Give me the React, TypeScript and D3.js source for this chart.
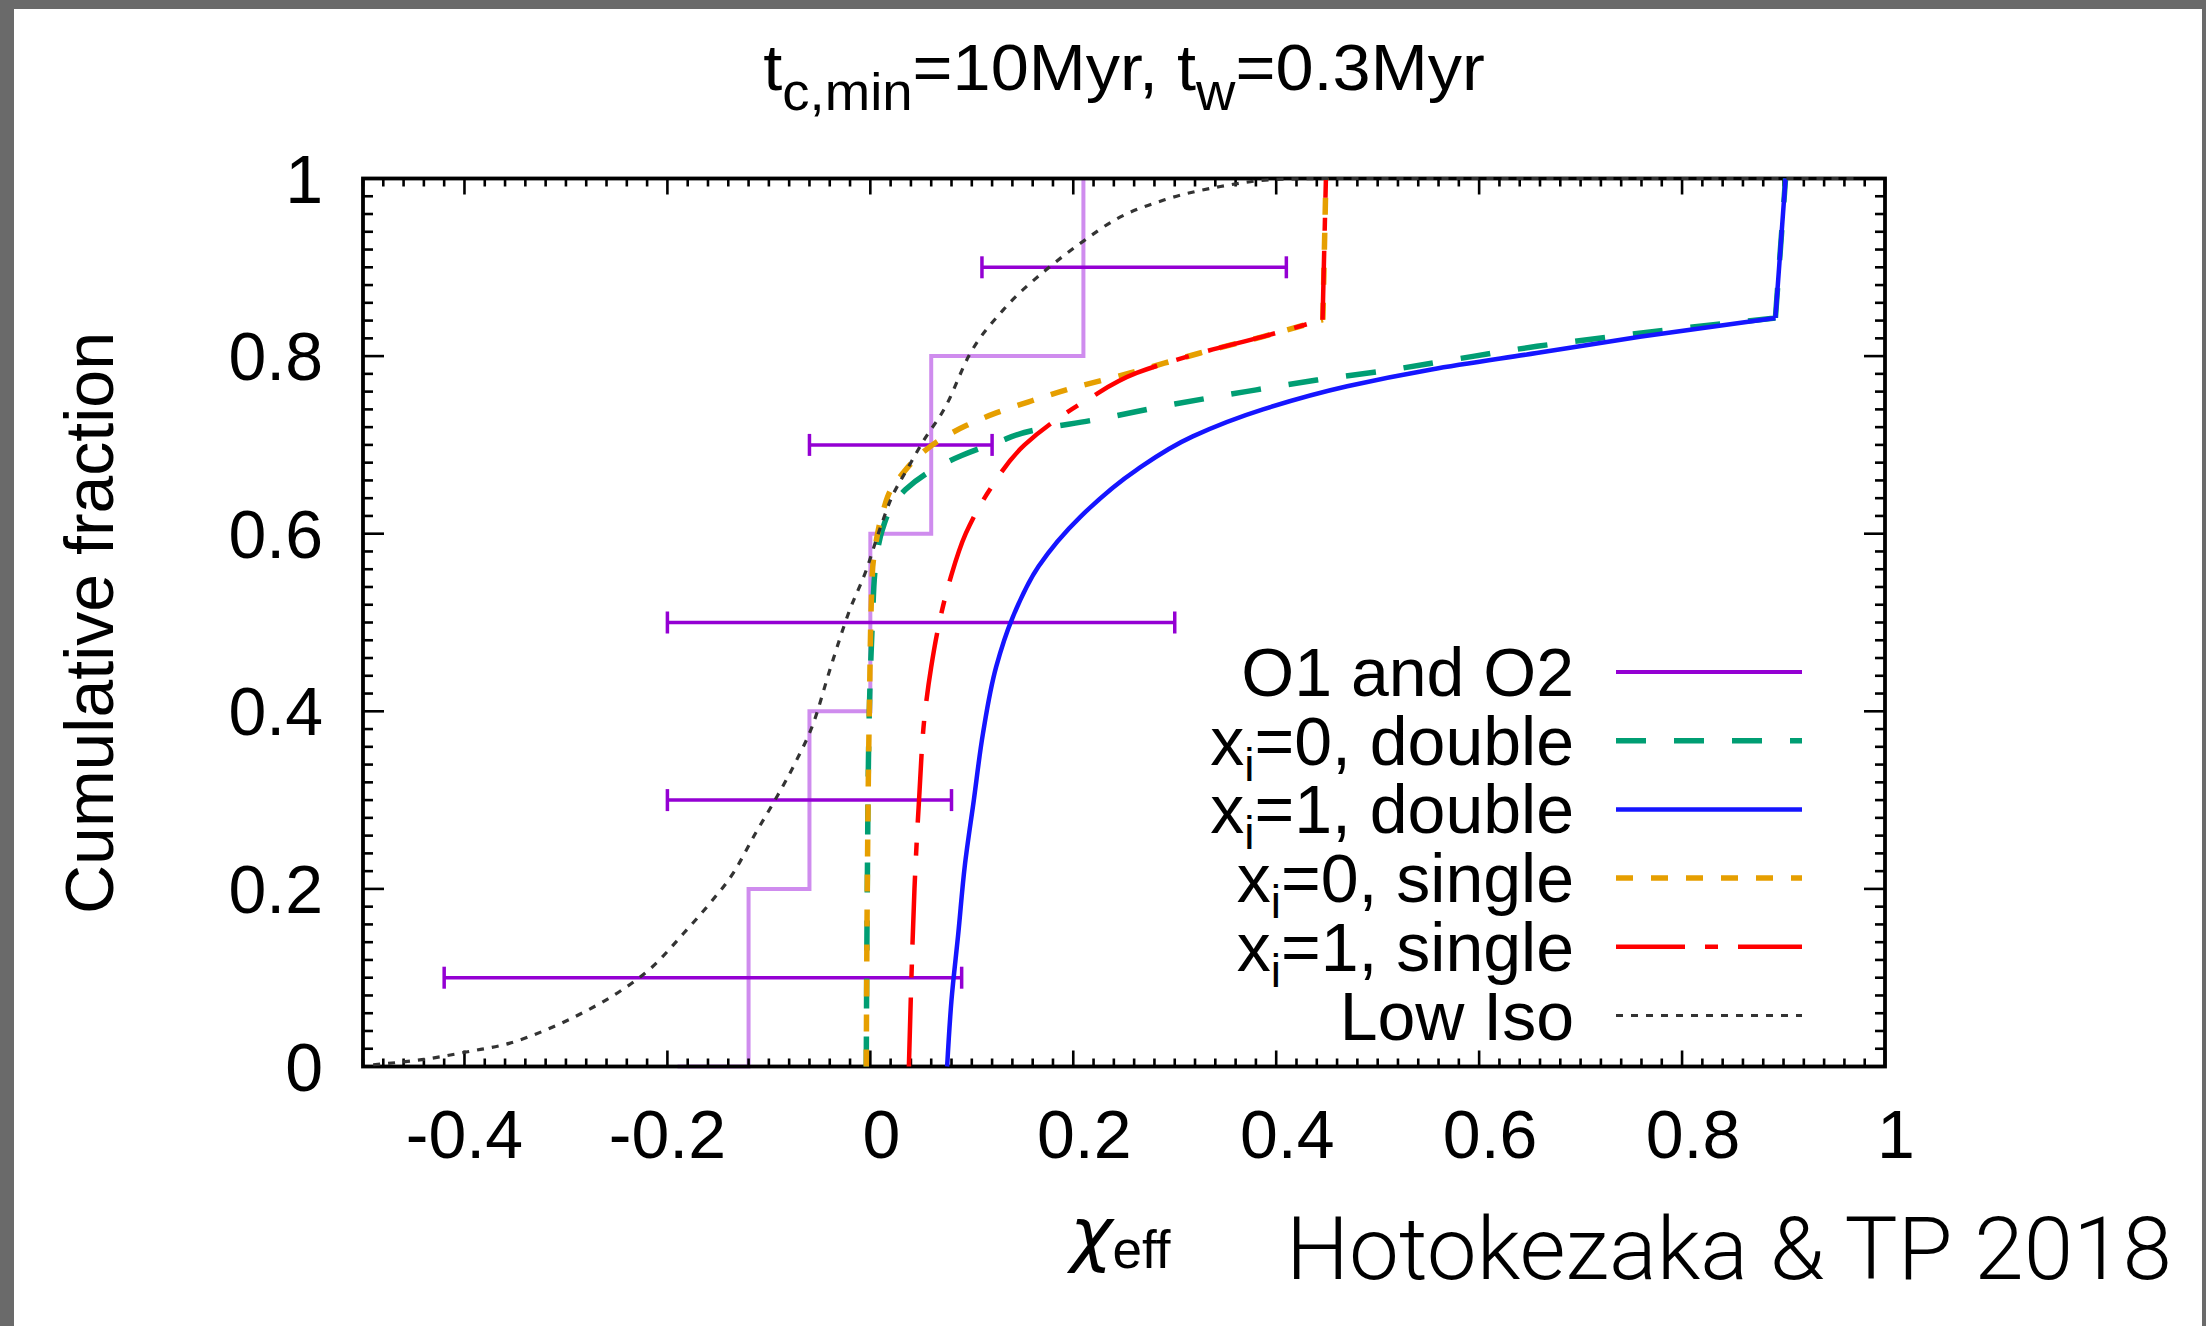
import React from "react";
import * as d3 from "d3";

// ---------- data ----------
const xTickValues = [-0.4, -0.2, 0, 0.2, 0.4, 0.6, 0.8, 1];
const xTickLabels = ["-0.4", "-0.2", "0", "0.2", "0.4", "0.6", "0.8", "1"];
const yTickValues = [0, 0.2, 0.4, 0.6, 0.8, 1];
const yTickLabels = ["0", "0.2", "0.4", "0.6", "0.8", "1"];

// O1 and O2 observed cumulative (step)
const obsStepX = [-0.19, -0.12, -0.06, 0.0, 0.06, 0.21];
const obsStepY = [0.0, 0.2, 0.4, 0.6, 0.8, 1.0];

// O1 and O2 error bars
const errY = [0.1, 0.3, 0.5, 0.7, 0.9];
const errXMin = [-0.42, -0.2, -0.2, -0.06, 0.11];
const errXMax = [0.09, 0.08, 0.3, 0.12, 0.41];

// x_i=0, double
const dbl0X = [-0.004, -0.003, -0.001, 0.002, 0.005, 0.012, 0.02, 0.035, 0.06, 0.09, 0.125, 0.159, 0.22, 0.30, 0.37, 0.44, 0.51, 0.574, 0.657, 0.76, 0.892, 0.902];
const dbl0Y = [0.0, 0.2, 0.4, 0.5, 0.563, 0.605, 0.628, 0.65, 0.671, 0.688, 0.703, 0.716, 0.728, 0.746, 0.76, 0.773, 0.784, 0.796, 0.811, 0.826, 0.843, 1.0];

// x_i=1, double
const dbl1X = [0.0757, 0.08, 0.0867, 0.093, 0.102, 0.111, 0.124, 0.14, 0.1657, 0.207, 0.2625, 0.3178, 0.387, 0.47, 0.553, 0.6566, 0.76, 0.892, 0.902];
const dbl1Y = [0.0, 0.075, 0.15, 0.225, 0.3, 0.375, 0.45, 0.505, 0.563, 0.619, 0.672, 0.7096, 0.74, 0.766, 0.785, 0.8035, 0.822, 0.843, 1.0];

// x_i=0, single
const sgl0X = [-0.004, -0.003, -0.001, 0.002, 0.0054, 0.0129, 0.0205, 0.032, 0.047, 0.069, 0.095, 0.124, 0.16, 0.193, 0.256, 0.325, 0.387, 0.446, 0.449];
const sgl0Y = [0.0, 0.2, 0.4, 0.556, 0.589, 0.627, 0.65, 0.668, 0.687, 0.706, 0.722, 0.736, 0.75, 0.762, 0.781, 0.8035, 0.822, 0.841, 1.0];

// x_i=1, single
const sgl1X = [0.038, 0.0405, 0.0435, 0.048, 0.054, 0.06, 0.068, 0.079, 0.094, 0.118, 0.152, 0.214, 0.2625, 0.3247, 0.387, 0.4457, 0.449];
const sgl1Y = [0.0, 0.1, 0.2, 0.3, 0.4, 0.45, 0.5, 0.55, 0.6, 0.65, 0.7, 0.751, 0.781, 0.8035, 0.822, 0.841, 1.0];

// Low Iso
const lowIsoX = [-0.49, -0.44, -0.395, -0.356, -0.32, -0.281, -0.245, -0.215, -0.184, -0.158, -0.135, -0.113, -0.094, -0.074, -0.056, -0.039, -0.021, -0.004, 0.009, 0.02, 0.036, 0.051, 0.075, 0.097, 0.131, 0.173, 0.207, 0.242, 0.29, 0.345, 0.4, 0.45, 0.97];
const lowIsoY = [0.002, 0.008, 0.017, 0.026, 0.041, 0.062, 0.086, 0.112, 0.15, 0.184, 0.218, 0.263, 0.3, 0.342, 0.387, 0.45, 0.512, 0.559, 0.604, 0.638, 0.672, 0.702, 0.745, 0.8, 0.852, 0.897, 0.927, 0.954, 0.976, 0.991, 0.999, 1.0, 1.0];

const legendLabels = ["O1 and O2", "x_i=0, double", "x_i=1, double", "x_i=0, single", "x_i=1, single", "Low Iso"];

const titleText = "t_{c,min}=10Myr, t_{w}=0.3Myr";
const yAxisTitle = "Cumulative fraction";
const creditText = "Hotokezaka & TP 2018";

// ---------- layout ----------
const W = 2206, H = 1326;
const PL = 363, PR = 1885, PT = 178.5, PB = 1066.5;
const FONT = "'Liberation Sans', Arial, Helvetica, sans-serif";

const x = d3.scaleLinear().domain([-0.5, 1]).range([PL, PR]);
const y = d3.scaleLinear().domain([0, 1]).range([PB, PT]);

const zip = (xs: number[], ys: number[]) => xs.map((v, i) => [v, ys[i]] as [number, number]);

const lineY = d3.line<[number, number]>().x(d => x(d[0])).y(d => y(d[1])).curve(d3.curveMonotoneY);
const lineX = d3.line<[number, number]>().x(d => x(d[0])).y(d => y(d[1])).curve(d3.curveMonotoneX);
const lineLin = d3.line<[number, number]>().x(d => x(d[0])).y(d => y(d[1]));
const stepLine = d3.line<[number, number]>().x(d => x(d[0])).y(d => y(d[1])).curve(d3.curveStepAfter);

const styles = [
  { color: "#9400d3", dash: "", width: 4 },
  { color: "#009e73", dash: "30,28", width: 5.5 },
  { color: "#1515ff", dash: "", width: 4.5 },
  { color: "#e69f00", dash: "17,18", width: 5.5 },
  { color: "#ff0000", dash: "69,20,13,20", width: 4.5 },
  { color: "#333333", dash: "7,8", width: 3.2 },
];

function parseTitle(s: string) {
  const parts: { t: string; sub: boolean }[] = [];
  const re = /_\{([^}]*)\}/g;
  let last = 0;
  let m;
  while ((m = re.exec(s)) !== null) {
    if (m.index > last) parts.push({ t: s.slice(last, m.index), sub: false });
    parts.push({ t: m[1], sub: true });
    last = m.index + m[0].length;
  }
  if (last < s.length) parts.push({ t: s.slice(last), sub: false });
  return parts;
}

// body drawn smooth (monotone in y), final jump to 1 drawn straight
function curvePath(xs: number[], ys: number[]) {
  const pts = zip(xs, ys);
  const n = pts.length;
  const body = lineY(pts.slice(0, n - 1)) || "";
  const tail = lineLin(pts.slice(n - 2)) || "";
  return body + " " + tail;
}

export default function App() {
  const isMajor = (v: number) => Math.abs(Math.round(v * 5) - v * 5) < 1e-6;
  const xMinor = d3.range(-0.5, 1.0001, 0.02).map(v => +v.toFixed(3)).filter(v => !isMajor(v));
  const yMinor = d3.range(0, 1.0001, 0.02).map(v => +v.toFixed(3)).filter(v => !isMajor(v));

  const titleParts = parseTitle(titleText);
  const TSUB = 20;
  const TF = 64, TSF = 51;

  const legendY0 = 672, legendDY = 68.7;

  const smoothCurves = [
    { xs: dbl0X, ys: dbl0Y, st: styles[1] },
    { xs: dbl1X, ys: dbl1Y, st: styles[2] },
    { xs: sgl0X, ys: sgl0Y, st: styles[3] },
    { xs: sgl1X, ys: sgl1Y, st: styles[4] },
  ];

  return (
    <svg width={W} height={H} style={{ position: "absolute", left: 0, top: 0, display: "block" }} fontFamily={FONT}>
      <rect x={0} y={0} width={W} height={H} fill="#ffffff" />
      <rect x={0} y={0} width={W} height={9} fill="#6a6a6a" />
      <rect x={0} y={0} width={14} height={H} fill="#6a6a6a" />
      <rect x={W - 4} y={0} width={4} height={H} fill="#6a6a6a" />

      {/* title */}
      <g transform={`translate(${(PL + PR) / 2},90) scale(1.07,1)`}>
        <text textAnchor="middle" fontSize={TF} fill="#000">
          {titleParts.map((p, i) => {
            const prevSub = i > 0 && titleParts[i - 1].sub;
            const dy = p.sub ? TSUB : prevSub ? -TSUB : 0;
            return (
              <tspan key={i} dy={dy} fontSize={p.sub ? TSF : TF}>{p.t}</tspan>
            );
          })}
        </text>
      </g>

      {/* O1 and O2 step */}
      <path d={stepLine(zip(obsStepX, obsStepY)) || ""} fill="none" stroke="#cf8cee" strokeWidth={4} />

      {/* error bars */}
      {errY.map((v, i) => (
        <g key={"e" + i} stroke="#9400d3" strokeWidth={3.5}>
          <line x1={x(errXMin[i])} x2={x(errXMax[i])} y1={y(v)} y2={y(v)} />
          <line x1={x(errXMin[i])} x2={x(errXMin[i])} y1={y(v) - 11} y2={y(v) + 11} />
          <line x1={x(errXMax[i])} x2={x(errXMax[i])} y1={y(v) - 11} y2={y(v) + 11} />
        </g>
      ))}

      {/* frame & ticks */}
      <g stroke="#000" strokeWidth={2.6}>
        {xTickValues.map(v => (
          <g key={"xt" + v}>
            <line x1={x(v)} x2={x(v)} y1={PB} y2={PB - 16} />
            <line x1={x(v)} x2={x(v)} y1={PT} y2={PT + 16} />
          </g>
        ))}
        {xMinor.map(v => (
          <g key={"xm" + v}>
            <line x1={x(v)} x2={x(v)} y1={PB} y2={PB - 8} />
            <line x1={x(v)} x2={x(v)} y1={PT} y2={PT + 8} />
          </g>
        ))}
        {yTickValues.map(v => (
          <g key={"yt" + v}>
            <line x1={PL} x2={PL + 21} y1={y(v)} y2={y(v)} />
            <line x1={PR} x2={PR - 21} y1={y(v)} y2={y(v)} />
          </g>
        ))}
        {yMinor.map(v => (
          <g key={"ym" + v}>
            <line x1={PL} x2={PL + 10} y1={y(v)} y2={y(v)} />
            <line x1={PR} x2={PR - 10} y1={y(v)} y2={y(v)} />
          </g>
        ))}
      </g>
      <rect x={PL} y={PT} width={PR - PL} height={PB - PT} fill="none" stroke="#000" strokeWidth={3.8} />

      {/* model curves */}
      {smoothCurves.map((c, i) => (
        <path key={"c" + i} d={curvePath(c.xs, c.ys)} fill="none" stroke={c.st.color}
          strokeWidth={c.st.width} strokeDasharray={c.st.dash || undefined} />
      ))}
      <path d={lineX(zip(lowIsoX, lowIsoY)) || ""} fill="none" stroke={styles[5].color}
        strokeWidth={styles[5].width} strokeDasharray={styles[5].dash} />

      {/* tick labels */}
      {xTickValues.map((v, i) => (
        <text key={"xl" + i} x={x(v)} dx={v >= 0 ? 11 : 0} y={1158} textAnchor="middle" fontSize={68} fill="#000">{xTickLabels[i]}</text>
      ))}
      {yTickValues.map((v, i) => (
        <text key={"yl" + i} x={323} y={y(v) + 24} textAnchor="end" fontSize={68} fill="#000">{yTickLabels[i]}</text>
      ))}

      {/* axis titles */}
      <text transform={`translate(113,623) rotate(-90)`} textAnchor="middle" fontSize={68} fill="#000">{yAxisTitle}</text>
      <text x={1070} y={1258} fill="#000">
        <tspan fontFamily="'DejaVu Sans', sans-serif" fontStyle="oblique" fontSize={72}>χ</tspan>
        <tspan fontSize={53} dy={10}>eff</tspan>
      </text>

      {/* legend */}
      {legendLabels.map((lab, i) => {
        const ly = legendY0 + i * legendDY;
        const st = styles[i];
        const k = lab.indexOf("_i");
        return (
          <g key={"lg" + i}>
            <text x={1574} y={ly + 24} textAnchor="end" fontSize={68} fill="#000">
              {k >= 0 ? (
                <>
                  <tspan>{lab.slice(0, k)}</tspan>
                  <tspan fontSize={46} dy={16}>i</tspan>
                  <tspan dy={-16}>{lab.slice(k + 2)}</tspan>
                </>
              ) : lab}
            </text>
            <line x1={1616} x2={1802} y1={ly} y2={ly} stroke={st.color} strokeWidth={st.width}
              strokeDasharray={st.dash || undefined} />
          </g>
        );
      })}

      {/* credit */}
      <text x={1286} y={1279} fontSize={88} fontWeight={300} fontFamily="Roboto, 'Open Sans', sans-serif"
        textLength={886} lengthAdjust="spacingAndGlyphs" fill="#000">{creditText}</text>
    </svg>
  );
}
